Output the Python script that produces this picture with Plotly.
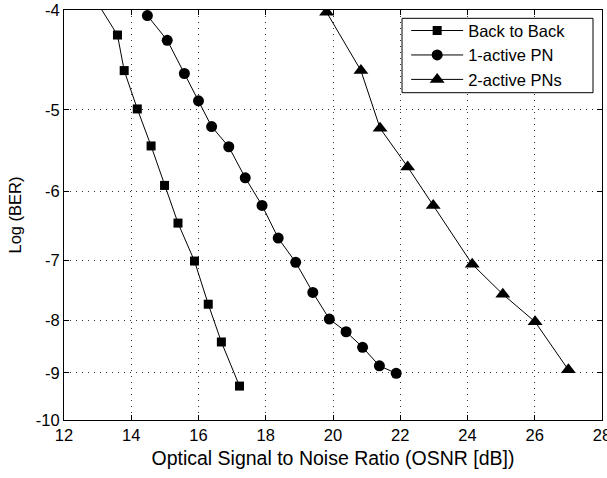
import plotly.graph_objects as go

# Back to Back
b2b_osnr = [13.0, 13.59, 13.79, 14.18, 14.59, 14.99, 15.39, 15.88, 16.29, 16.68, 17.22]
b2b_logber = [-3.94, -4.23, -4.58, -4.99, -5.42, -5.92, -6.44, -7.01, -7.72, -8.40, -9.27]

# 1-active PN
pn1_osnr = [14.48, 15.07, 15.58, 16.0, 16.39, 16.90, 17.39, 17.89, 18.37, 18.89, 19.40, 19.89, 20.39, 20.88, 21.38, 21.88]
pn1_logber = [-4.05, -4.28, -4.61, -4.90, -5.19, -5.43, -5.82, -6.19, -6.66, -7.03, -7.52, -7.98, -8.21, -8.50, -8.86, -9.01]

# 2-active PNs
pn2_osnr = [19.81, 20.83, 21.40, 22.22, 22.98, 24.14, 25.05, 26.01, 27.0]
pn2_logber = [-4.02, -4.58, -5.21, -5.68, -6.19, -7.06, -7.55, -8.03, -8.94]

x_ticks = [12, 14, 16, 18, 20, 22, 24, 26, 28]
y_ticks = [-4, -5, -6, -7, -8, -9, -10]

FONT = "Liberation Sans, Arial, Helvetica, sans-serif"

fig = go.Figure()
series = [
    ("Back to Back", b2b_osnr, b2b_logber, "square", 9),
    ("1-active PN", pn1_osnr, pn1_logber, "circle", 11),
    ("2-active PNs", pn2_osnr, pn2_logber, "triangle-up", 13),
]
for name, xs, ys, sym, sz in series:
    fig.add_trace(go.Scatter(
        x=xs, y=[-v for v in ys], name=name, mode="lines+markers",
        line=dict(color="black", width=1),
        marker=dict(symbol=sym, size=sz, color="black"),
    ))

# legend frame (MATLAB-style wide box)
fig.add_shape(
    type="rect", xref="paper", yref="paper",
    x0=0.6283, x1=0.9833, y0=0.7983, y1=0.9797,
    line=dict(color="black", width=1), fillcolor="white", layer="above",
)

fig.update_layout(
    width=607, height=478,
    margin=dict(l=64, r=5, t=10, b=58, autoexpand=False),
    paper_bgcolor="white", plot_bgcolor="white",
    font=dict(family=FONT, size=16.5, color="black"),
    showlegend=True,
    legend=dict(
        x=0.636, y=0.992, xanchor="left", yanchor="top",
        borderwidth=0, bgcolor="rgba(0,0,0,0)",
        font=dict(size=16.5), tracegroupgap=0, itemwidth=52,
    ),
)
fig.update_xaxes(
    range=[12, 28], tickvals=x_ticks, ticktext=[str(v) for v in x_ticks],
    showline=True, linecolor="black", linewidth=1, mirror="ticks",
    ticks="inside", ticklen=5, tickcolor="black",
    showgrid=True, gridcolor="#333333", griddash="1px,5px", gridwidth=1,
    zeroline=False, ticklabeloverflow="allow", automargin=False,
    title=dict(text="Optical Signal to Noise Ratio (OSNR [dB])", font=dict(size=19.5), standoff=8),
)
fig.update_yaxes(
    type="log", range=[1.0, 0.60206],
    tickvals=[-v for v in y_ticks], ticktext=[str(v) for v in y_ticks],
    showline=True, linecolor="black", linewidth=1, mirror="ticks",
    ticks="inside", ticklen=5, tickcolor="black",
    showgrid=True, gridcolor="#333333", griddash="1px,5px", gridwidth=1,
    zeroline=False, ticklabeloverflow="allow", automargin=False,
    title=dict(text="Log (BER)", font=dict(size=16.5), standoff=10),
)

fig.write_html("out.html")
